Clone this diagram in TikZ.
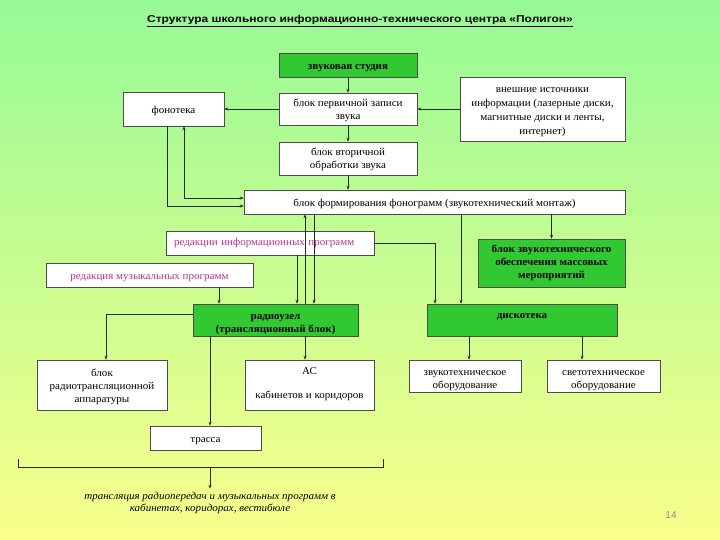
\documentclass[tikz,border=0pt]{standalone}
\usepackage{fontspec}
\setmainfont[FakeStretch=1.05]{Liberation Serif}
\setsansfont{Liberation Sans}
\newfontfamily\titlefont[FakeStretch=1.2]{Liberation Sans}
\usetikzlibrary{arrows.meta}

\definecolor{bgtop}{RGB}{150,250,150}
\definecolor{bgmid}{RGB}{200,252,105}
\definecolor{bgbot}{RGB}{250,255,140}
\definecolor{boxgreen}{RGB}{50,200,50}
\definecolor{redtext}{RGB}{180,50,150}
\definecolor{lineclr}{RGB}{35,45,30}

% lines of a box, set a little lower than the centre
\newcommand\lowlines[2]{\raisebox{-#1}[\height][\depth]{%
  \begin{tabular}{@{}c@{}}#2\end{tabular}}}

\begin{document}
\begin{tikzpicture}
  [x=1pt,y=-1pt,
   every node/.style={font=\fontsize{10.5}{13}\selectfont},
   box/.style={draw=black!70,fill=white,align=center,inner sep=2pt},
   gbox/.style={box,fill=boxgreen,font=\fontsize{10.5}{13}\selectfont\bfseries},
   link/.style={draw=lineclr,line width=0.8pt,-{Stealth[length=4pt,width=3pt]}}]
  \shade[top color=bgtop,middle color=bgmid,bottom color=bgbot] (0,0) rectangle (720,540);
  \useasboundingbox (0,0) rectangle (720,540);

  \node (title) at (360,21) {\titlefont\bfseries\fontsize{10}{12}\selectfont
    \underline{Структура школьного информационно-технического центра «Полигон»}};

  \node[gbox,minimum width=138,minimum height=24] (studio) at (348,65)
    {\lowlines{2pt}{звуковая студия}};
  \node[box,minimum width=101,minimum height=34] (fono) at (173.5,109)
    {\lowlines{1.5pt}{фонотека}};
  \node[box,minimum width=138,minimum height=32] (prim) at (348,109)
    {\lowlines{1pt}{блок первичной записи\\звука}};
  \node[box,minimum width=165,minimum height=64,font=\fontsize{10.5}{14}\selectfont] (ext) at (542.5,109)
    {\lowlines{2pt}{внешние источники\\информации (лазерные диски,\\магнитные диски и ленты,\\интернет)}};
  \node[box,minimum width=138,minimum height=33] (sec) at (348,158.5)
    {\lowlines{1pt}{блок вторичной\\обработки звука}};
  \node[box,minimum width=381,minimum height=24] (form) at (434.5,202)
    {\lowlines{1.5pt}{блок формирования фонограмм (звукотехнический монтаж)}};
  \node[box,minimum width=208,minimum height=24,text width=192pt,align=left,inner xsep=8pt,
    text=redtext] (info) at (270,243) {редакции информационных программ};
  \node[box,minimum width=207,minimum height=24,text=redtext] (music) at (149.5,275)
    {\lowlines{2pt}{редакция музыкальных программ}};
  \node[gbox,minimum width=147,minimum height=48] (mass) at (551.5,263)
    {блок звукотехнического\\обеспечения массовых\\мероприятий};
  \node[gbox,minimum width=165,minimum height=32] (radio) at (275.5,320)
    {\lowlines{3.5pt}{радиоузел\\(трансляционный блок)}};
  \node[gbox,minimum width=190,minimum height=32,text depth=7pt] (disco) at (522,320) {дискотека};
  \node[box,minimum width=130,minimum height=50] (rta) at (102,385)
    {\lowlines{1.5pt}{блок\\радиотрансляционной\\аппаратуры}};
  \node[box,minimum width=129,minimum height=50] (ac) at (309.5,385)
    {\lowlines{-1.5pt}{АС\\[11pt]кабинетов и коридоров}};
  \node[box,minimum width=112,minimum height=32] (sound) at (465,376)
    {\lowlines{3.5pt}{звукотехническое\\оборудование}};
  \node[box,minimum width=113,minimum height=32] (light) at (603.5,376)
    {\lowlines{3.5pt}{светотехническое\\оборудование}};
  \node[box,minimum width=111,minimum height=24] (trassa) at (205.5,438)
    {\lowlines{2pt}{трасса}};

  \node[align=center,font=\fontsize{10.5}{12}\selectfont\itshape] (note) at (210,503)
    {трансляция радиопередач и музыкальных программ в\\кабинетах, коридорах, вестибюле};
  \node[text=black!45,font=\sffamily\fontsize{10}{12}\selectfont] (page) at (671,515) {14};

  \foreach \from/\to in {studio/prim, prim/sec}
    \draw[link] (\from) -- (\to);
  \foreach \from/\to in {prim.west/fono.east, ext.west/prim.east}
    \draw[link] (\from) -- (\to);
  \draw[link] (sec.south) -- (form.north -| sec.south);

  \draw[link] (fono.south -| 167,0) |- (form.west |- 0,206);
  \draw[link,{Stealth[length=4pt,width=3pt]}-{Stealth[length=4pt,width=3pt]}]
    (fono.south -| 184,0) |- (form.west |- 0,198);

  \draw[link] (info.south -| 297,0) -- (radio.north -| 297,0);
  \draw[link] (radio.north -| 305,0) -- (form.south -| 305,0);
  \draw[link] (form.south -| 314,0) -- (radio.north -| 314,0);
  \draw[link] (music.south -| 219,0) -- (radio.north -| 219,0);
  \draw[link] (info.east) -| (disco.north -| 435,0);
  \draw[link] (form.south -| 461,0) -- (disco.north -| 461,0);
  \draw[link] (form.south -| mass.north) -- (mass.north);

  \draw[link] (radio.west |- 0,314) -| (rta.north -| 106,0);
  \draw[link] (radio.south -| 210,0) -- (trassa.north -| 210,0);
  \draw[link] (radio.south -| 305,0) -- (ac.north -| 305,0);
  \draw[link] (disco.south -| 469,0) -- (sound.north -| 469,0);
  \draw[link] (disco.south -| 582,0) -- (light.north -| 582,0);

  % bracket under the lower blocks
  \draw[draw=lineclr,line width=0.8pt] (18,459) -- (18,467) -- (383,467) -- (383,459);
  \coordinate (brace) at (210,467);
  \draw[link] (brace) -- (note.north);
\end{tikzpicture}
\end{document}
